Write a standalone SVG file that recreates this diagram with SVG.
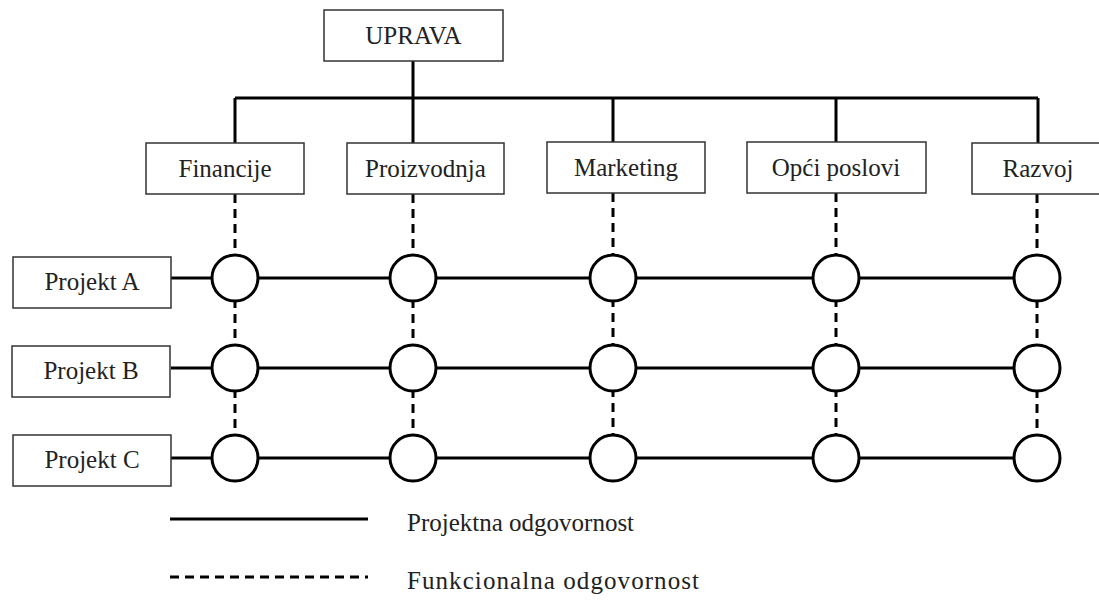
<svg xmlns="http://www.w3.org/2000/svg" width="1099" height="603" viewBox="0 0 1099 603">
<style>
.box{fill:#fff;stroke:#333;stroke-width:1.5}
text{font-family:"Liberation Serif","Times New Roman",serif;font-size:25px;fill:#222}
.t{text-anchor:middle}
.solid{stroke:#000;stroke-width:3;fill:none}
.dash{stroke:#000;stroke-width:3;fill:none;stroke-dasharray:9 6}
.node{fill:#fff;stroke:#000;stroke-width:3}
</style>
<rect width="1099" height="603" fill="#fff"/>
<g id="connectors">
<path class="solid" d="M413 61V98M235 98H1038M235 98V143M413 98V143M613 98V142M836 98V142M1038 98V143"/>
<path class="dash" d="M235 194V458M413 194V458M613 193V458M836 193V458M1037 194V458"/>
<path class="solid" d="M171 278H1037M171 368H1037M171 458H1037"/>
</g>
<g id="uprava"><rect class="box" x="324" y="10" width="179" height="51"/><text class="t" x="413.5" y="44">UPRAVA</text></g>
<g id="financije"><rect class="box" x="146" y="143" width="158" height="51"/><text class="t" x="225" y="177">Financije</text></g>
<g id="proizvodnja"><rect class="box" x="347" y="143" width="157" height="51"/><text class="t" x="425.5" y="177">Proizvodnja</text></g>
<g id="marketing"><rect class="box" x="547" y="142" width="158" height="51"/><text class="t" x="626" y="176">Marketing</text></g>
<g id="opci"><rect class="box" x="747" y="142" width="179" height="51"/><text class="t" x="836" y="176">Opći poslovi</text></g>
<g id="razvoj"><rect class="box" x="972" y="143" width="132" height="51"/><text class="t" x="1038" y="177">Razvoj</text></g>
<g id="projektA"><rect class="box" x="13" y="257" width="158" height="51"/><text class="t" x="92" y="290">Projekt A</text></g>
<g id="projektB"><rect class="box" x="12" y="346" width="158" height="51"/><text class="t" x="91" y="379">Projekt B</text></g>
<g id="projektC"><rect class="box" x="13" y="435" width="158" height="51"/><text class="t" x="92" y="468">Projekt C</text></g>
<g id="nodes">
<circle class="node" cx="235" cy="278" r="23"/><circle class="node" cx="413" cy="278" r="23"/><circle class="node" cx="613" cy="278" r="23"/><circle class="node" cx="836" cy="278" r="23"/><circle class="node" cx="1037" cy="278" r="23"/>
<circle class="node" cx="235" cy="368" r="23"/><circle class="node" cx="413" cy="368" r="23"/><circle class="node" cx="613" cy="368" r="23"/><circle class="node" cx="836" cy="368" r="23"/><circle class="node" cx="1037" cy="368" r="23"/>
<circle class="node" cx="235" cy="458" r="23"/><circle class="node" cx="413" cy="458" r="23"/><circle class="node" cx="613" cy="458" r="23"/><circle class="node" cx="836" cy="458" r="23"/><circle class="node" cx="1037" cy="458" r="23"/>
</g>
<g id="legend">
<line class="solid" x1="170" y1="519" x2="368" y2="519"/>
<line class="dash" x1="170" y1="577" x2="368" y2="577"/>
<text x="407" y="531">Projektna odgovornost</text>
<text x="407" y="589" textLength="292">Funkcionalna odgovornost</text>
</g>
</svg>
